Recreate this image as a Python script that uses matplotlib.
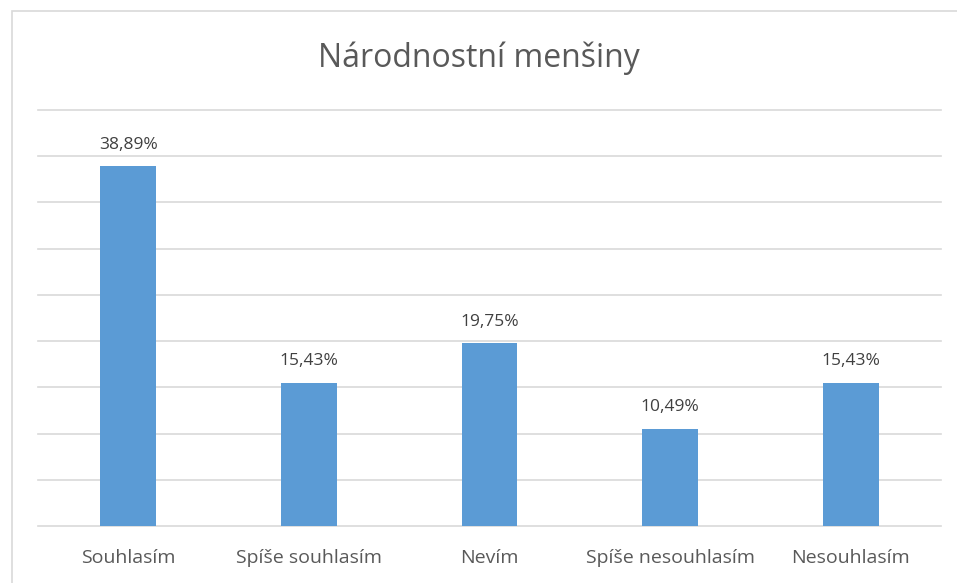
import matplotlib.pyplot as plt
from matplotlib.patches import Rectangle

categories = ["Souhlasím", "Spíše souhlasím", "Nevím", "Spíše nesouhlasím", "Nesouhlasím"]
values = [38.89, 15.43, 19.75, 10.49, 15.43]
labels = ["38,89%", "15,43%", "19,75%", "10,49%", "15,43%"]

plt.rcParams["font.family"] = ["Open Sans", "DejaVu Sans"]

W, H = 957, 583
fig = plt.figure(figsize=(W / 100, H / 100), dpi=100)

# chart frame (cut off at right and bottom)
fig.patches.append(Rectangle((12 / W, -0.1), 1.2, (583 - 11) / H + 0.1,
                             transform=fig.transFigure, fill=False,
                             edgecolor="#d9d9d9", linewidth=1.2))

ax = fig.add_axes([38 / W, (H - 526) / H, (941 - 38) / W, (526 - 110) / H])
x = range(len(categories))
bars = ax.bar(x, values, width=0.31, color="#5b9bd5", zorder=2)

ax.set_ylim(0, 45)
ax.set_xlim(-0.5, len(categories) - 0.5)
ax.set_yticks(range(0, 46, 5))
ax.yaxis.grid(True, color="#d9d9d9", linewidth=1.2, zorder=0)
for gl in ax.get_ygridlines():
    gl.set_clip_on(False)
ax.tick_params(axis="y", left=False, labelleft=False)
ax.tick_params(axis="x", bottom=False, labelsize=14, labelcolor="#595959", pad=13)
ax.set_xticks(list(x))
ax.set_xticklabels(categories)
for s in ax.spines.values():
    s.set_visible(False)

for b, lab in zip(bars, labels):
    ax.annotate(lab, (b.get_x() + b.get_width() / 2, b.get_height()),
                xytext=(0, 10), textcoords="offset points", ha="center", va="bottom",
                fontsize=12.5, color="#404040")

fig.text(0.5, (H - 58) / H, "Národnostní menšiny", ha="center", va="center",
         fontsize=23, color="#595959")

fig.savefig("out.png", dpi=100)
